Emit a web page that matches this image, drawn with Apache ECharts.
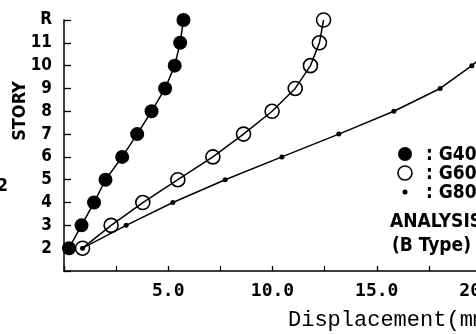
<!DOCTYPE html>
<html>
<head>
<meta charset="utf-8">
<script src="https://cdn.jsdelivr.net/npm/echarts@6/dist/echarts.min.js"></script>
<style>html,body{margin:0;padding:0;background:#fff;}#c{width:476px;height:334px;}</style>
</head>
<body>
<div id="c"></div>
<script>
// stories (R = 12)
const stories = [2, 3, 4, 5, 6, 7, 8, 9, 10, 11, 12];
const storyLabels = {12: 'R'};
// displacement (mm) per story
const g400 = [0.24, 0.84, 1.44, 1.99, 2.79, 3.51, 4.20, 4.85, 5.31, 5.57, 5.73];
const g600 = [0.89, 2.26, 3.78, 5.46, 7.14, 8.61, 9.98, 11.09, 11.82, 12.25, 12.45];
const g800 = [0.89, 2.98, 5.22, 7.73, 10.45, 13.18, 15.82, 18.04, 19.56, 20.8];
const xTickLabels = [5, 10, 15, 20];

const pairs = arr => arr.map((v, i) => [v, stories[i]]);
const chart = echarts.init(document.getElementById('c'));
const condensed = "'DejaVu Sans Condensed', 'DejaVu Sans', sans-serif";
chart.setOption({
  animation: false,
  backgroundColor: '#fff',
  grid: {left: 64, top: 20, width: 417, height: 251, containLabel: false, outerBoundsMode: 'none'},
  xAxis: {
    type: 'value', min: 0, max: 20, interval: 2.5,
    axisLine: {lineStyle: {color: '#000', width: 1.5}},
    axisTick: {inside: true, length: 5, lineStyle: {color: '#000', width: 1.3}},
    splitLine: {show: false},
    axisLabel: {
      margin: 11, color: '#000', fontFamily: "'DejaVu Sans Mono', monospace", fontSize: 18,
      fontWeight: 'bold', showMaxLabel: true,
      formatter: v => xTickLabels.includes(v) ? v.toFixed(1) : ''
    }
  },
  yAxis: {
    type: 'value', min: 1, max: 12, interval: 1,
    axisLine: {lineStyle: {color: '#000', width: 1.5}},
    axisTick: {inside: true, length: 7, lineStyle: {color: '#000', width: 1.3}},
    splitLine: {show: false},
    axisLabel: {
      margin: 12, color: '#000', fontFamily: condensed, fontSize: 17, fontWeight: 'bold',
      formatter: v => v === 1 ? '' : (storyLabels[v] || String(v))
    }
  },
  series: [
    {type: 'line', data: pairs(g800), symbol: 'circle', symbolSize: 5,
     lineStyle: {color: '#000', width: 1.5}, itemStyle: {color: '#000'}, z: 2},
    {type: 'line', data: pairs(g600), symbol: 'circle', symbolSize: 14,
     lineStyle: {color: '#000', width: 1.5},
     itemStyle: {color: 'rgba(0,0,0,0)', borderColor: '#000', borderWidth: 1.6}, z: 3},
    {type: 'line', data: pairs(g400), symbol: 'circle', symbolSize: 14,
     lineStyle: {color: '#000', width: 1.5}, itemStyle: {color: '#000'}, z: 4}
  ],
  graphic: [
    {type: 'text', x: 20, y: 111, rotation: Math.PI / 2,
     style: {text: 'STORY', fill: '#000', font: "bold 18px " + condensed, align: 'center', verticalAlign: 'middle'}},
    {type: 'text', x: 8, y: 186,
     style: {text: '2', fill: '#000', font: "bold 18px " + condensed, align: 'right', verticalAlign: 'middle'}},
    {type: 'circle', shape: {cx: 405, cy: 154, r: 7}, style: {fill: '#000'}},
    {type: 'circle', shape: {cx: 405, cy: 173, r: 7}, style: {fill: 'none', stroke: '#000', lineWidth: 1.6}},
    {type: 'circle', shape: {cx: 405, cy: 192, r: 2.5}, style: {fill: '#000'}},
    {type: 'text', x: 426, y: 155, style: {text: ': G400', fill: '#000', font: "bold 19px " + condensed, verticalAlign: 'middle'}},
    {type: 'text', x: 426, y: 174, style: {text: ': G600', fill: '#000', font: "bold 19px " + condensed, verticalAlign: 'middle'}},
    {type: 'text', x: 426, y: 193, style: {text: ': G800', fill: '#000', font: "bold 19px " + condensed, verticalAlign: 'middle'}},
    {type: 'text', x: 390, y: 222, style: {text: 'ANALYSIS', fill: '#000', font: "bold 19px " + condensed, verticalAlign: 'middle'}},
    {type: 'text', x: 392, y: 246, style: {text: '(B Type)', fill: '#000', font: "bold 19px " + condensed, verticalAlign: 'middle'}},
    {type: 'text', x: 288, y: 320, style: {text: 'Displacement(mm)', fill: '#000', font: "22px 'Liberation Mono', monospace", verticalAlign: 'middle'}}
  ]
});
</script>
</body>
</html>
